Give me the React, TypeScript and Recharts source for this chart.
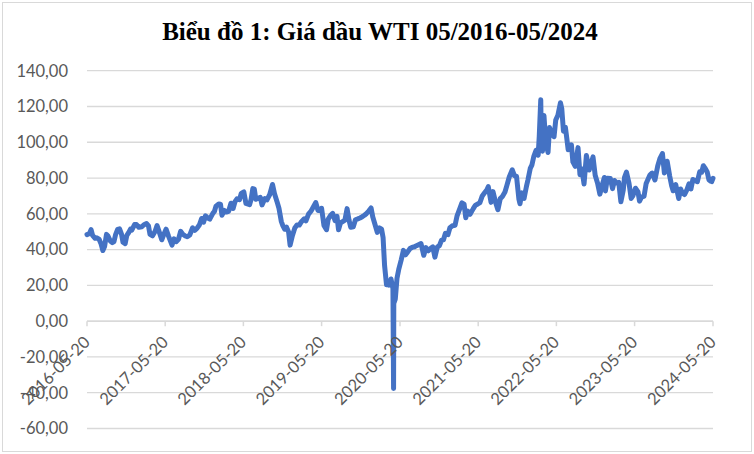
import { LineChart, Line, XAxis, YAxis, CartesianGrid, ReferenceLine, ReferenceDot } from 'recharts'

// WTI giá đóng cửa, ước lượng từ hình (khoảng 2 tuần một điểm, thêm các điểm cực trị)
const wti2016: [string, number][] = [
  ['2016-05-20', 48.4], ['2016-06-01', 49.0], ['2016-06-08', 51.2], ['2016-06-15', 48.0],
  ['2016-06-27', 46.3], ['2016-07-05', 46.6], ['2016-07-15', 45.9], ['2016-07-25', 43.1],
  ['2016-08-02', 39.5], ['2016-08-10', 41.7], ['2016-08-19', 48.5], ['2016-08-26', 47.6],
  ['2016-09-06', 44.8], ['2016-09-15', 43.9], ['2016-09-23', 44.5], ['2016-09-30', 48.2],
  ['2016-10-10', 51.3], ['2016-10-19', 51.6], ['2016-10-28', 48.7], ['2016-11-04', 44.1],
  ['2016-11-14', 43.3], ['2016-11-22', 48.0], ['2016-11-30', 49.4], ['2016-12-09', 51.5],
  ['2016-12-15', 50.9], ['2016-12-28', 54.0],
]

const wti2017: [string, number][] = [
  ['2017-01-06', 54.0], ['2017-01-17', 52.5], ['2017-01-31', 52.8], ['2017-02-10', 53.9],
  ['2017-02-22', 54.6], ['2017-03-03', 53.3], ['2017-03-10', 48.5], ['2017-03-22', 47.7],
  ['2017-04-03', 50.2], ['2017-04-12', 53.4], ['2017-04-24', 49.2], ['2017-05-04', 45.5],
  ['2017-05-15', 48.9], ['2017-05-24', 51.4], ['2017-06-05', 47.4], ['2017-06-21', 42.5],
  ['2017-06-30', 46.0], ['2017-07-10', 44.4], ['2017-07-21', 45.8], ['2017-07-31', 50.2],
  ['2017-08-10', 48.6], ['2017-08-22', 47.6], ['2017-08-31', 47.2], ['2017-09-12', 48.2],
  ['2017-09-25', 52.2], ['2017-10-05', 50.8], ['2017-10-16', 52.0], ['2017-10-27', 53.9],
  ['2017-11-06', 57.4], ['2017-11-15', 55.3], ['2017-11-24', 58.9], ['2017-12-05', 57.6],
  ['2017-12-14', 57.0], ['2017-12-29', 60.4],
]

const wti2018: [string, number][] = [
  ['2018-01-05', 61.4], ['2018-01-12', 64.3], ['2018-01-25', 65.5], ['2018-02-02', 65.4],
  ['2018-02-09', 59.2], ['2018-02-20', 61.9], ['2018-03-01', 61.0], ['2018-03-12', 61.4],
  ['2018-03-23', 65.9], ['2018-04-02', 63.0], ['2018-04-11', 66.8], ['2018-04-20', 68.4],
  ['2018-05-02', 67.9], ['2018-05-10', 71.4], ['2018-05-22', 72.2], ['2018-06-01', 65.8],
  ['2018-06-18', 65.1], ['2018-06-25', 68.1], ['2018-07-03', 74.1], ['2018-07-10', 73.8],
  ['2018-07-17', 68.1], ['2018-07-27', 68.7], ['2018-08-07', 69.2], ['2018-08-15', 65.0],
  ['2018-08-28', 68.5], ['2018-09-07', 67.8], ['2018-09-20', 70.8], ['2018-10-03', 76.4],
  ['2018-10-12', 71.3], ['2018-10-24', 66.8], ['2018-11-02', 63.1], ['2018-11-13', 55.7],
  ['2018-11-20', 53.4], ['2018-11-29', 51.4], ['2018-12-07', 52.6], ['2018-12-17', 49.9],
  ['2018-12-24', 42.5],
]

const wti2019: [string, number][] = [
  ['2019-01-04', 47.9], ['2019-01-15', 52.1], ['2019-01-25', 53.7], ['2019-02-05', 53.7],
  ['2019-02-15', 55.6], ['2019-02-28', 57.2], ['2019-03-08', 56.1], ['2019-03-20', 59.8],
  ['2019-04-01', 61.6], ['2019-04-12', 63.9], ['2019-04-23', 66.3], ['2019-05-03', 61.9],
  ['2019-05-14', 61.8], ['2019-05-20', 63.1], ['2019-05-31', 53.5], ['2019-06-12', 51.1],
  ['2019-06-20', 57.1], ['2019-07-01', 59.1], ['2019-07-11', 60.2], ['2019-07-22', 56.2],
  ['2019-07-31', 58.6], ['2019-08-07', 51.1], ['2019-08-16', 54.9], ['2019-08-28', 55.8],
  ['2019-09-06', 56.5], ['2019-09-16', 62.9], ['2019-09-25', 56.5], ['2019-10-03', 52.5],
  ['2019-10-15', 52.8], ['2019-10-25', 56.7], ['2019-11-05', 57.2], ['2019-11-15', 57.7],
  ['2019-11-26', 58.4], ['2019-12-06', 59.2], ['2019-12-16', 60.2], ['2019-12-27', 61.7],
]

const wti2020: [string, number][] = [
  ['2020-01-06', 63.3], ['2020-01-14', 58.2], ['2020-01-24', 54.2], ['2020-02-04', 49.6],
  ['2020-02-14', 52.1], ['2020-02-24', 51.4], ['2020-03-02', 46.8], ['2020-03-09', 31.1],
  ['2020-03-18', 20.4], ['2020-03-27', 21.5], ['2020-03-30', 20.1], ['2020-04-08', 23.6],
  ['2020-04-17', 18.3], ['2020-04-20', -37.6], ['2020-04-21', 10.0], ['2020-04-28', 12.3],
  ['2020-05-06', 24.0], ['2020-05-15', 29.4], ['2020-05-26', 34.4], ['2020-06-05', 39.6],
  ['2020-06-15', 37.1], ['2020-06-25', 38.7], ['2020-07-06', 40.6], ['2020-07-15', 41.2],
  ['2020-07-27', 41.6], ['2020-08-05', 42.2], ['2020-08-17', 42.9], ['2020-08-26', 43.4],
  ['2020-09-08', 36.8], ['2020-09-18', 41.1], ['2020-09-29', 39.3], ['2020-10-09', 40.6],
  ['2020-10-20', 41.5], ['2020-10-30', 35.8], ['2020-11-10', 41.4], ['2020-11-20', 42.2],
  ['2020-11-30', 45.3], ['2020-12-09', 45.5], ['2020-12-18', 49.1], ['2020-12-30', 48.4],
]

const wti2021: [string, number][] = [
  ['2021-01-08', 52.2], ['2021-01-20', 53.3], ['2021-02-01', 53.6], ['2021-02-10', 58.7],
  ['2021-02-24', 63.2], ['2021-03-05', 66.1], ['2021-03-15', 65.4], ['2021-03-23', 57.8],
  ['2021-04-01', 61.5], ['2021-04-12', 59.7], ['2021-04-27', 62.9], ['2021-05-06', 64.7],
  ['2021-05-18', 65.5], ['2021-05-28', 66.3], ['2021-06-08', 70.0], ['2021-06-18', 71.6],
  ['2021-06-30', 73.5], ['2021-07-06', 75.2], ['2021-07-19', 66.4], ['2021-07-28', 72.4],
  ['2021-08-09', 66.5], ['2021-08-20', 62.3], ['2021-08-31', 68.5], ['2021-09-10', 69.7],
  ['2021-09-22', 72.2], ['2021-10-01', 75.9], ['2021-10-12', 80.6], ['2021-10-26', 84.6],
  ['2021-11-05', 81.3], ['2021-11-15', 80.9], ['2021-11-26', 68.2], ['2021-12-01', 65.6],
  ['2021-12-10', 71.7], ['2021-12-20', 68.6], ['2021-12-31', 75.2],
]

const wti2022: [string, number][] = [
  ['2022-01-07', 78.9], ['2022-01-18', 85.4], ['2022-01-26', 87.4], ['2022-02-04', 92.3],
  ['2022-02-14', 95.5], ['2022-02-24', 92.8], ['2022-03-01', 103.4], ['2022-03-08', 123.7],
  ['2022-03-10', 106.0], ['2022-03-16', 95.0], ['2022-03-23', 114.9], ['2022-03-31', 100.3],
  ['2022-04-11', 94.3], ['2022-04-18', 108.2], ['2022-04-29', 104.7], ['2022-05-09', 103.1],
  ['2022-05-17', 112.4], ['2022-05-27', 115.1], ['2022-06-08', 122.1], ['2022-06-14', 118.9],
  ['2022-06-22', 106.2], ['2022-07-01', 108.4], ['2022-07-07', 102.7], ['2022-07-14', 95.8],
  ['2022-07-29', 98.6], ['2022-08-05', 89.0], ['2022-08-16', 86.5], ['2022-08-29', 97.0],
  ['2022-09-07', 81.9], ['2022-09-16', 85.1], ['2022-09-26', 76.7], ['2022-10-07', 92.6],
  ['2022-10-20', 84.5], ['2022-11-07', 91.8], ['2022-11-17', 81.6], ['2022-11-28', 77.2],
  ['2022-12-09', 71.0], ['2022-12-20', 76.1], ['2022-12-30', 80.3],
]

const wti2023: [string, number][] = [
  ['2023-01-04', 72.8], ['2023-01-13', 79.9], ['2023-01-27', 79.7], ['2023-02-06', 74.1],
  ['2023-02-15', 78.6], ['2023-02-28', 77.1], ['2023-03-07', 77.6], ['2023-03-17', 66.7],
  ['2023-03-28', 73.2], ['2023-04-03', 80.4], ['2023-04-12', 83.3], ['2023-04-24', 77.1],
  ['2023-05-04', 68.6], ['2023-05-12', 70.0], ['2023-05-24', 74.3], ['2023-06-05', 72.2],
  ['2023-06-12', 67.1], ['2023-06-22', 69.5], ['2023-07-03', 69.8], ['2023-07-13', 77.0],
  ['2023-07-31', 81.8], ['2023-08-10', 82.8], ['2023-08-23', 78.9], ['2023-09-05', 86.7],
  ['2023-09-15', 90.8], ['2023-09-27', 93.7], ['2023-10-06', 82.8], ['2023-10-19', 89.4],
  ['2023-10-31', 81.0], ['2023-11-09', 75.7], ['2023-11-16', 72.9], ['2023-11-28', 76.4],
  ['2023-12-12', 68.6], ['2023-12-21', 73.9], ['2023-12-29', 71.7],
]

const wti2024: [string, number][] = [
  ['2024-01-08', 70.8], ['2024-01-19', 73.4], ['2024-01-29', 76.8], ['2024-02-07', 73.9],
  ['2024-02-16', 79.2], ['2024-02-28', 78.5], ['2024-03-08', 78.0], ['2024-03-19', 83.5],
  ['2024-03-28', 83.2], ['2024-04-05', 86.9], ['2024-04-12', 85.7], ['2024-04-23', 83.4],
  ['2024-05-01', 79.0], ['2024-05-07', 78.4], ['2024-05-14', 78.0], ['2024-05-20', 79.8],
]

const tickDates = [
  '2016-05-20', '2017-05-20', '2018-05-20', '2019-05-20', '2020-05-20',
  '2021-05-20', '2022-05-20', '2023-05-20', '2024-05-20',
]

const yTicks = [-60, -40, -20, 0, 20, 40, 60, 80, 100, 120, 140]

const START = '2016-05-20'
const dayOf = (s: string) => Math.round((Date.parse(s) - Date.parse(START)) / 86400000)
const END_DAY = dayOf('2024-05-20')

const data = [...wti2016, ...wti2017, ...wti2018, ...wti2019, ...wti2020, ...wti2021, ...wti2022, ...wti2023, ...wti2024]
  .map(([d, v]) => ({ t: dayOf(d), price: v }))

const LABEL_FONT = 'Lato, "Noto Sans", sans-serif'
const fmt = (v: number) => v.toFixed(2).replace('.', ',')

function DateTick(props: any) {
  const { cx, cy, label } = props
  const tx = cx + 4
  const ty = cy + 22
  return (
    <g>
      <line x1={cx} x2={cx} y1={cy} y2={cy + 5} stroke='#d9d9d9' strokeWidth={1.5} />
      <text
        x={tx}
        y={ty}
        transform={`rotate(-45 ${tx} ${ty})`}
        textAnchor='end'
        fontSize={16.5}
        fontFamily={LABEL_FONT}
        fill='#595959'
      >
        {label}
      </text>
    </g>
  )
}

export default function App() {
  return (
    <div style={{ position: 'absolute', left: 0, top: 0, width: 754, height: 454, background: '#fff' }}>
      <div
        style={{
          position: 'absolute', left: 2, top: 2, width: 750, height: 450,
          border: '1.5px solid #d9d9d9', boxSizing: 'border-box',
        }}
      />
      <div
        style={{
          position: 'absolute', left: 0, top: 19, width: 760, textAlign: 'center',
          fontFamily: '"Liberation Serif", "Times New Roman", serif', fontWeight: 'bold',
          fontSize: 25, lineHeight: '25px', color: '#000',
        }}
      >
        Biểu đồ 1: Giá dầu WTI 05/2016-05/2024
      </div>
      <div style={{ position: 'absolute', left: 0, top: 0 }}>
        <LineChart width={754} height={454} data={data} margin={{ top: 70.7, right: 41, bottom: 25.5, left: 0 }}>
          <CartesianGrid vertical={false} stroke='#d9d9d9' strokeWidth={1.3} />
          <XAxis dataKey='t' type='number' domain={[0, END_DAY]} hide />
          <YAxis
            type='number'
            domain={[-60, 140]}
            ticks={yTicks}
            width={87}
            axisLine={false}
            tickLine={false}
            tickSize={6}
            tickMargin={13}
            tickFormatter={fmt}
            tick={{ fontSize: 16.5, fill: '#595959', fontFamily: LABEL_FONT }}
          />
          <ReferenceLine y={0} stroke='#d9d9d9' strokeWidth={1.5} />
          {tickDates.map((d) => (
            <ReferenceDot
              key={d}
              x={dayOf(d)}
              y={0}
              r={0}
              shape={(p: any) => <DateTick {...p} label={d} />}
            />
          ))}
          <Line
            dataKey='price'
            type='linear'
            stroke='#4472C4'
            strokeWidth={5}
            strokeLinejoin='round'
            strokeLinecap='round'
            dot={false}
            isAnimationActive={false}
          />
        </LineChart>
      </div>
    </div>
  )
}
